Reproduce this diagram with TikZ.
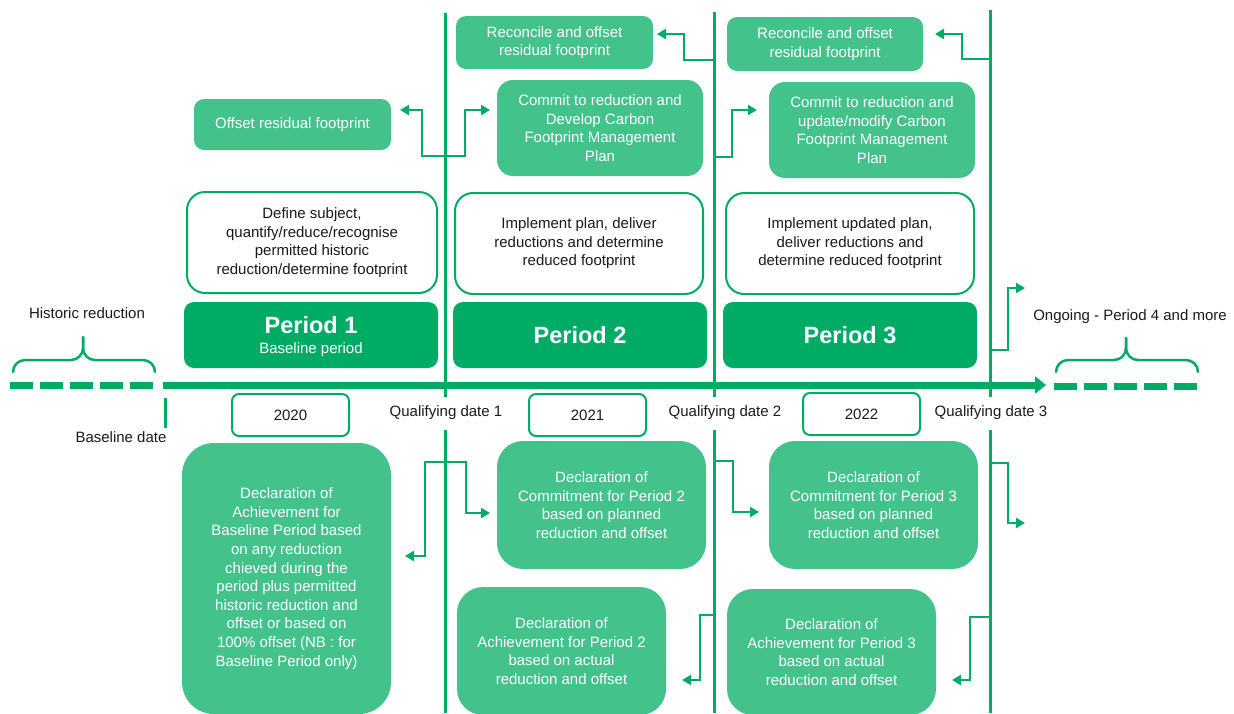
\documentclass[tikz,border=0pt]{standalone}
\usepackage{fontspec}
\setmainfont{Liberation Sans}
\usetikzlibrary{arrows.meta}
\definecolor{dg}{RGB}{0,172,101}
\definecolor{lg}{RGB}{68,194,139}
\definecolor{tx}{RGB}{26,26,26}
\begin{document}
\begin{tikzpicture}[x=1pt,y=-1pt,
  fs/.style={font=\fontsize{15}{18.6}\selectfont},
  sz/.style 2 args={minimum width=#1,minimum height=#2},
  lbox/.style={fs, fill=lg, text=white, align=center, inner sep=0pt, outer sep=0pt},
  obox/.style={fs, draw=dg, line width=2pt, fill=white, text=tx, align=center, inner sep=0pt, rounded corners=18pt},
  pbox/.style={fill=dg, inner sep=0pt, outer sep=0pt, rounded corners=10pt},
  ybox/.style={fs, draw=dg, line width=2pt, fill=white, text=tx, inner sep=0pt, rounded corners=7pt},
  ptitle/.style={font=\fontsize{23.5}{26}\selectfont\bfseries, text=white, inner sep=0pt},
  psub/.style={fs, text=white, inner sep=0pt},
  plain/.style={fs, text=tx, inner sep=1pt},
  qlabel/.style={fs, text=tx, fill=white, inner xsep=2pt, minimum height=33pt},
  vline/.style={draw=dg, line width=3pt},
  conn/.style={draw=dg, line width=2.5pt, -{Triangle[length=9pt,width=10pt]}},
  brace/.style={draw=dg, line width=2.5pt, line cap=round, rounded corners=12pt},
  dashline/.style={draw=dg, line width=7pt, dash pattern=on 23pt off 7pt},
  axisline/.style={draw=dg, line width=7pt, -{Triangle[length=11pt,width=17pt]}}
]
\useasboundingbox (0,0) rectangle (1234,713);

% qualifying date lines
\coordinate (q1t) at (445,13);  \coordinate (q1b) at (445,713);
\coordinate (q2t) at (714,12);  \coordinate (q2b) at (714,713);
\coordinate (q3t) at (990,10);  \coordinate (q3b) at (990,713);
\draw[vline] (q1t) -- (q1b);
\draw[vline] (q2t) -- (q2b);
\draw[vline] (q3t) -- (q3b);

% time axis
\coordinate (axs) at (163,385); \coordinate (axe) at (1046,385);
\draw[axisline] (axs) -- (axe);
\coordinate (hl1) at (10,385); \coordinate (hl2) at (153,385);
\draw[dashline] (hl1) -- (hl2);
\coordinate (ol1) at (1054,386); \coordinate (ol2) at (1197,386);
\draw[dashline] (ol1) -- (ol2);
\coordinate (bt1) at (165,398); \coordinate (bt2) at (165,428);
\draw[vline] (bt1) -- (bt2);

% braces
\coordinate (hbt) at (83,337);
\coordinate (obt) at (1126,338);
\draw[brace] (13,372) -- (13,360) -- (83,360) -- (hbt);
\draw[brace] (155,372) -- (155,360) -- (83,360) -- (hbt);
\draw[brace] (1056,372) -- (1056,360) -- (1126,360) -- (obt);
\draw[brace] (1198,372) -- (1198,360) -- (1126,360) -- (obt);

% labels
\node[plain] (hist) at (87,313) {Historic reduction};
\node[plain] (ongo) at (1130,317) {Ongoing - Period 4 and more};
\node[plain] (based) at (121,437) {Baseline date};
\node[qlabel] (ql1) at (446,413) {Qualifying date 1};
\node[qlabel] (ql2) at (725,413) {Qualifying date 2};
\node[qlabel] (ql3) at (991,413) {Qualifying date 3};

% top boxes
\node[lbox, sz={197pt}{51pt}, rounded corners=10pt] (off1) at (292.5,124.5) {Offset residual footprint};
\node[lbox, sz={197pt}{53pt}, rounded corners=10pt] (rec2) at (554.5,42.5) {Reconcile and offset\\residual footprint};
\node[lbox, sz={206pt}{96pt}, rounded corners=16pt] (com2) at (600,128) {Commit to reduction and\\Develop Carbon\\Footprint Management\\Plan};
\node[lbox, sz={196pt}{54pt}, rounded corners=10pt] (rec3) at (825,44) {Reconcile and offset\\residual footprint};
\node[lbox, sz={206pt}{96pt}, rounded corners=16pt] (com3) at (872,130) {Commit to reduction and\\update/modify Carbon\\Footprint Management\\Plan};

% outline boxes
\node[obox, sz={250pt}{101pt}] (def1) at (312,242.5) {Define subject,\\quantify/reduce/recognise\\permitted historic\\reduction/determine footprint};
\node[obox, sz={248pt}{101pt}] (imp2) at (579,243.5) {Implement plan, deliver\\reductions and determine\\reduced footprint};
\node[obox, sz={248pt}{101pt}] (imp3) at (850,243.5) {Implement updated plan,\\deliver reductions and\\determine reduced footprint};

% period boxes
\node[pbox, sz={254pt}{66pt}] (per1) at (311,335) {};
\node[pbox, sz={254pt}{66pt}] (per2) at (580,335) {};
\node[pbox, sz={254pt}{66pt}] (per3) at (850,335) {};
\node[ptitle] (per1t) at (311,325) {Period 1};
\node[psub] (per1s) at (311,350) {Baseline period};
\node[ptitle] (per2t) at (580,335) {Period 2};
\node[ptitle] (per3t) at (850,335) {Period 3};

% year boxes
\node[ybox, sz={117pt}{42pt}] (y20) at (290.5,415) {2020};
\node[ybox, sz={117pt}{42pt}] (y21) at (587.5,415) {2021};
\node[ybox, sz={117pt}{42pt}] (y22) at (861.5,414) {2022};

% declaration boxes
\node[lbox, sz={209pt}{271pt}, rounded corners=32pt] (dab) at (286.5,578.5) {Declaration of\\Achievement for\\Baseline Period based\\on any reduction\\chieved during the\\period plus permitted\\historic reduction and\\offset or based on\\100\% offset (NB : for\\Baseline Period only)};
\node[lbox, sz={209pt}{128pt}, rounded corners=26pt] (dc2) at (601.5,505) {Declaration of\\Commitment for Period 2\\based on planned\\reduction and offset};
\node[lbox, sz={209pt}{128pt}, rounded corners=26pt] (da2) at (561.5,651) {Declaration of\\Achievement for Period 2\\based on actual\\reduction and offset};
\node[lbox, sz={209pt}{128pt}, rounded corners=26pt] (dc3) at (873.5,505) {Declaration of\\Commitment for Period 3\\based on planned\\reduction and offset};
\node[lbox, sz={209pt}{126pt}, rounded corners=26pt] (da3) at (831.5,652) {Declaration of\\Achievement for Period 3\\based on actual\\reduction and offset};

% connector junctions and tips
\coordinate (j1a) at (445,156);
\coordinate (t1) at (400,110);
\coordinate (t2) at (490,110);
\coordinate (j2a) at (714,60);
\coordinate (t3) at (657,34);
\coordinate (j2b) at (714,157);
\coordinate (t4) at (757,110);
\coordinate (j3a) at (990,59);
\coordinate (t5) at (935,34);
\coordinate (j3b) at (990,350);
\coordinate (t6) at (1025,288);
\coordinate (j1b) at (445,462);
\coordinate (t7) at (405,556);
\coordinate (t8) at (490,513);
\coordinate (j2c) at (714,461);
\coordinate (t9) at (759,512);
\coordinate (j2d) at (714,615);
\coordinate (t10) at (682,680);
\coordinate (j3c) at (990,463);
\coordinate (t11) at (1025,523);
\coordinate (j3d) at (990,617);
\coordinate (t12) at (952,680);

\draw[conn] (j1a) -| (422,110) -- (t1);
\draw[conn] (j1a) -| (465,110) -- (t2);
\draw[conn] (j2a) -| (684,34) -- (t3);
\draw[conn] (j2b) -| (732,110) -- (t4);
\draw[conn] (j3a) -| (962,34) -- (t5);
\draw[conn] (j3b) -| (1008,288) -- (t6);
\draw[conn] (j1b) -| (425,556) -- (t7);
\draw[conn] (j1b) -| (466,513) -- (t8);
\draw[conn] (j2c) -| (733,512) -- (t9);
\draw[conn] (j2d) -| (700,680) -- (t10);
\draw[conn] (j3c) -| (1008,523) -- (t11);
\draw[conn] (j3d) -| (970,680) -- (t12);
\end{tikzpicture}
\end{document}
